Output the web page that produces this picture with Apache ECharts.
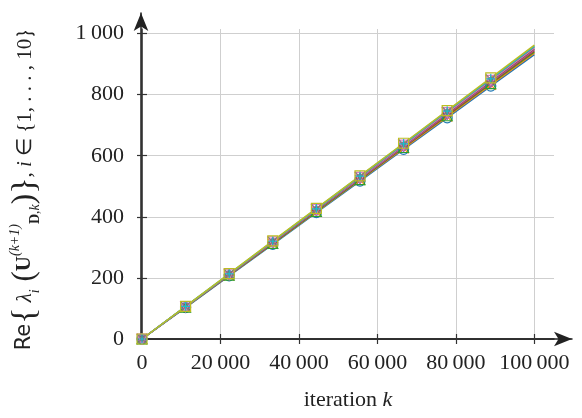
<!DOCTYPE html>
<html>
<head>
<meta charset="utf-8">
<script src="https://cdn.jsdelivr.net/npm/echarts@6/dist/echarts.min.js"></script>
<style>html,body{margin:0;padding:0;background:#fff}#c{width:582px;height:418px}</style>
</head>
<body>
<div id="c"></div>
<script>
// iterations at which values are sampled (markers at all but the last)
var iterations = [0, 11111, 22222, 33333, 44444, 55556, 66667, 77778, 88889, 100000];
var s1  = [0, 103, 207, 310, 414, 517, 621, 724, 828, 931];
var s2  = [0, 104, 208, 312, 416, 520, 624, 728, 832, 936];
var s3  = [0, 104, 209, 313, 418, 522, 627, 731, 836, 940];
var s4  = [0, 105, 210, 315, 420, 524, 629, 734, 839, 944];
var s5  = [0, 105, 210, 316, 421, 526, 631, 737, 842, 947];
var s6  = [0, 106, 211, 317, 422, 528, 633, 739, 844, 950];
var s7  = [0, 106, 212, 318, 424, 529, 635, 741, 847, 953];
var s8  = [0, 106, 212, 319, 425, 531, 637, 744, 850, 956];
var s9  = [0, 107, 213, 320, 426, 533, 639, 746, 852, 959];
var s10 = [0, 107, 214, 321, 428, 534, 641, 748, 855, 962];
var xTicks = [0, 20000, 40000, 60000, 80000, 100000];
var yTicks = [0, 200, 400, 600, 800, 1000];

var allSeries = [s1, s2, s3, s4, s5, s6, s7, s8, s9, s10];
var colors = ['#1f77b4', '#ff7f0e', '#2ca02c', '#d62728', '#9467bd', '#8c564b', '#e377c2', '#7f7f7f', '#17becf', '#bcbd22'];
var CIRCLE = 'path://M10,5A5,5 0 1,1 0,5A5,5 0 1,1 10,5Z';
var SQUARE = 'path://M0,0L10,0L10,10L0,10Z';
var TRI = 'path://M5,0L10,10L0,10Z';
var TRID = 'path://M0,0L10,0L5,10Z';
var DIAM = 'path://M5,0L10,5L5,10L0,5Z';
var X = 'path://M0,0L10,10M10,0L0,10';
var PLUS = 'path://M5,0L5,10M0,5L10,5';
var STAR = 'path://M5,0L5,10M0,5L10,5M1.5,1.5L8.5,8.5M8.5,1.5L1.5,8.5';
var symbols = [CIRCLE, X, TRI, PLUS, DIAM, STAR, TRID, X, PLUS, SQUARE];

function fmt(v) {
  var s = String(v);
  if (s.length > 3) s = s.slice(0, s.length - 3) + '\u2009' + s.slice(s.length - 3);
  return s;
}

var series = allSeries.map(function (vals, i) {
  var data = vals.map(function (v, j) {
    if (j === vals.length - 1) return {value: [iterations[j], v], symbol: 'none'};
    return [iterations[j], v];
  });
  return {
    type: 'line', xAxisIndex: 0, yAxisIndex: 0, data: data,
    symbol: symbols[i], symbolSize: 10, showAllSymbol: true,
    lineStyle: {color: colors[i], width: 1.5},
    itemStyle: {color: 'rgba(0,0,0,0)', borderColor: colors[i], borderWidth: 1.2},
    emphasis: {disabled: true}, animation: false, z: 3
  };
});

var serif = 'Liberation Serif';
var chart = echarts.init(document.getElementById('c'), null, {renderer: 'canvas'});
chart.setOption({
  animation: false,
  grid: [
    {left: 141, right: 28, top: 29, bottom: 79, containLabel: false},
    {left: 141, right: 10, top: 13, bottom: 79, containLabel: false}
  ],
  xAxis: [
    {
      type: 'value', gridIndex: 0, min: 0, max: 105000,
      axisLine: {show: true, lineStyle: {color: '#333', width: 1.5}},
      axisTick: {show: true, length: 5, customValues: xTicks, lineStyle: {color: '#333', width: 1.2}},
      axisLabel: {customValues: xTicks, formatter: fmt, margin: 13, fontFamily: serif, fontSize: 22, color: '#222'},
      splitLine: {show: true, lineStyle: {color: '#cfcfcf', width: 1}},
      name: 'iteration {k|k}', nameLocation: 'middle', nameGap: 50,
      nameTextStyle: {fontFamily: serif, fontSize: 22, color: '#222', rich: {k: {fontFamily: serif, fontStyle: 'italic', fontSize: 22, color: '#222'}}}
    },
    {
      type: 'value', gridIndex: 0, min: 0, max: 105000, position: 'bottom',
      axisLine: {show: false},
      axisTick: {show: true, inside: true, length: 5, customValues: xTicks, lineStyle: {color: '#333', width: 1.2}},
      axisLabel: {show: false}, splitLine: {show: false}
    },
    {
      type: 'value', gridIndex: 1, min: 0, max: 1,
      axisLine: {show: true, symbol: ['none', 'arrow'], symbolSize: [11, 18], lineStyle: {color: '#222', width: 1.5}},
      axisTick: {show: false}, axisLabel: {show: false}, splitLine: {show: false}
    }
  ],
  yAxis: [
    {
      type: 'value', gridIndex: 0, min: 0, max: 1015,
      axisLine: {show: true, lineStyle: {color: '#333', width: 1.5}},
      axisTick: {show: true, length: 5, customValues: yTicks, lineStyle: {color: '#333', width: 1.2}},
      axisLabel: {customValues: yTicks, formatter: fmt, margin: 18, fontFamily: serif, fontSize: 22, color: '#222'},
      splitLine: {show: true, lineStyle: {color: '#cfcfcf', width: 1}},
      name: '{re|Re}{bb|{}{it| λ}{sub|i}{bp| (}{bu|U}{sup|(k+1)}{subb|D}{sub|,k}{bp|)}}{n|, }{it|i}{n| ∈ {1, . . . , 10}{n|｝}',
      nameLocation: 'middle', nameGap: 100, nameRotate: 90,
      nameTextStyle: {
        fontFamily: serif, fontSize: 34, color: '#222',
        rich: {
          re: {fontFamily: 'DejaVu Sans', fontSize: 21, color: '#222'},
          bb: {fontFamily: serif, fontSize: 34, color: '#222'},
          bp: {fontFamily: serif, fontSize: 31, color: '#222'},
          it: {fontFamily: serif, fontStyle: 'italic', fontSize: 21, color: '#222'},
          n: {fontFamily: serif, fontSize: 21, color: '#222'},
          bu: {fontFamily: serif, fontWeight: 'bold', fontSize: 21, color: '#222'},
          sup: {fontFamily: serif, fontStyle: 'italic', fontSize: 14, color: '#222', verticalAlign: 'top', lineHeight: 14},
          sub: {fontFamily: serif, fontStyle: 'italic', fontSize: 14, color: '#222', verticalAlign: 'bottom', lineHeight: 14},
          subb: {fontFamily: serif, fontWeight: 'bold', fontSize: 14, color: '#222', verticalAlign: 'bottom', lineHeight: 14}
        }
      }
    },
    {
      type: 'value', gridIndex: 0, min: 0, max: 1015, position: 'left',
      axisLine: {show: false},
      axisTick: {show: true, inside: true, length: 5, customValues: yTicks, lineStyle: {color: '#333', width: 1.2}},
      axisLabel: {show: false}, splitLine: {show: false}
    },
    {
      type: 'value', gridIndex: 1, min: 0, max: 1,
      axisLine: {show: true, symbol: ['none', 'arrow'], symbolSize: [11, 18], lineStyle: {color: '#222', width: 1.5}},
      axisTick: {show: false}, axisLabel: {show: false}, splitLine: {show: false}
    }
  ],
  series: series
});
</script>
</body>
</html>
